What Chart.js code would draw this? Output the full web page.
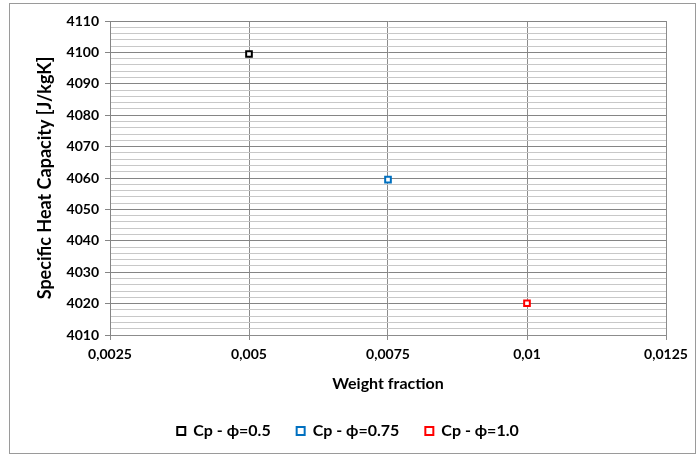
<!DOCTYPE html>
<html lang="en">
<head>
    <meta charset="UTF-8">
    <title>Specific heat capacity vs weight fraction</title>
    <script src="https://cdn.jsdelivr.net/npm/chart.js"></script>
    <style>
        body { margin: 0; background: #fff; }
        .chart-container { width: 696px; height: 456px; position: relative; }
    </style>
</head>
<body>
    <div class="chart-container"><canvas id="chart1"></canvas></div>

    <script>
        // values
        const seriesLabels = ['Cp - \u03d5=0.5', 'Cp - \u03d5=0.75', 'Cp - \u03d5=1.0'];
        const weightFractions = [0.005, 0.0075, 0.01];
        const cpValues = [4099.5, 4059.5, 4020.1];
        const seriesColors = ['#000000', '#0070C0', '#FF0000'];

        const xMin = 0.0025, xMax = 0.0125, xStep = 0.0025;
        const yMin = 4010, yMax = 4110, yMajor = 10, yMinor = 2;

        const FONT = 'Lato, "Open Sans", sans-serif';
        const isMajor = v => Math.abs(v % yMajor) < 1e-6 || Math.abs(v % yMajor - yMajor) < 1e-6;

        // grey frame round the whole chart, like the spreadsheet export
        const frame = {
            id: 'frame',
            afterDraw(chart) {
                const ctx = chart.ctx;
                ctx.save();
                ctx.strokeStyle = '#9a9a9a';
                ctx.lineWidth = 1;
                ctx.strokeRect(9.5, 3.5, 686, 450);
                ctx.restore();
            }
        };

        const datasets = seriesLabels.map((label, i) => ({
            label: label,
            data: [{ x: weightFractions[i], y: cpValues[i] }],
            pointStyle: 'rect',
            pointRadius: 4,
            pointBorderWidth: 2,
            borderColor: seriesColors[i],
            backgroundColor: '#ffffff',
            pointBackgroundColor: '#ffffff'
        }));

        new Chart(document.getElementById('chart1'), {
            type: 'scatter',
            data: { datasets: datasets },
            plugins: [frame],
            options: {
                responsive: true,
                maintainAspectRatio: false,
                animation: false,
                layout: { padding: { top: 21, right: 30, bottom: 7, left: 30 } },
                plugins: {
                    tooltip: { enabled: false },
                    legend: {
                        position: 'bottom',
                        labels: {
                            usePointStyle: true,
                            pointStyle: 'rect',
                            boxWidth: 8,
                            boxHeight: 8,
                            padding: 26,
                            color: '#000',
                            font: { family: FONT, size: 16, weight: 'bold' }
                        }
                    }
                },
                scales: {
                    x: {
                        type: 'linear',
                        min: xMin,
                        max: xMax,
                        afterFit: s => { s.height = 62; },
                        ticks: {
                            stepSize: xStep,
                            color: '#000',
                            padding: 6,
                            font: { family: FONT, size: 14, weight: 'bold' },
                            callback: v => String(+v.toFixed(4)).replace('.', ',')
                        },
                        grid: { color: '#8c8c8c', tickColor: '#8c8c8c', tickLength: 5 },
                        border: { color: '#8c8c8c' },
                        title: {
                            display: true,
                            text: 'Weight fraction',
                            color: '#000',
                            font: { family: FONT, size: 16, weight: 'bold' }
                        }
                    },
                    y: {
                        min: yMin,
                        max: yMax,
                        afterFit: s => { s.width = 80; },
                        ticks: {
                            stepSize: yMinor,
                            autoSkip: false,
                            color: '#000',
                            padding: 6,
                            font: { family: FONT, size: 14, weight: 'bold' },
                            callback: v => isMajor(v) ? String(v) : ''
                        },
                        grid: {
                            color: c => isMajor(c.tick.value) ? '#858585' : '#c8c8c8',
                            tickColor: c => isMajor(c.tick.value) ? '#858585' : 'rgba(0,0,0,0)',
                            tickLength: 5
                        },
                        border: { color: '#858585' },
                        title: {
                            display: true,
                            text: 'Specific Heat Capacity [J/kgK]',
                            color: '#000',
                            font: { family: FONT, size: 18, weight: 'bold' }
                        }
                    }
                }
            }
        });
    </script>
</body>
</html>
